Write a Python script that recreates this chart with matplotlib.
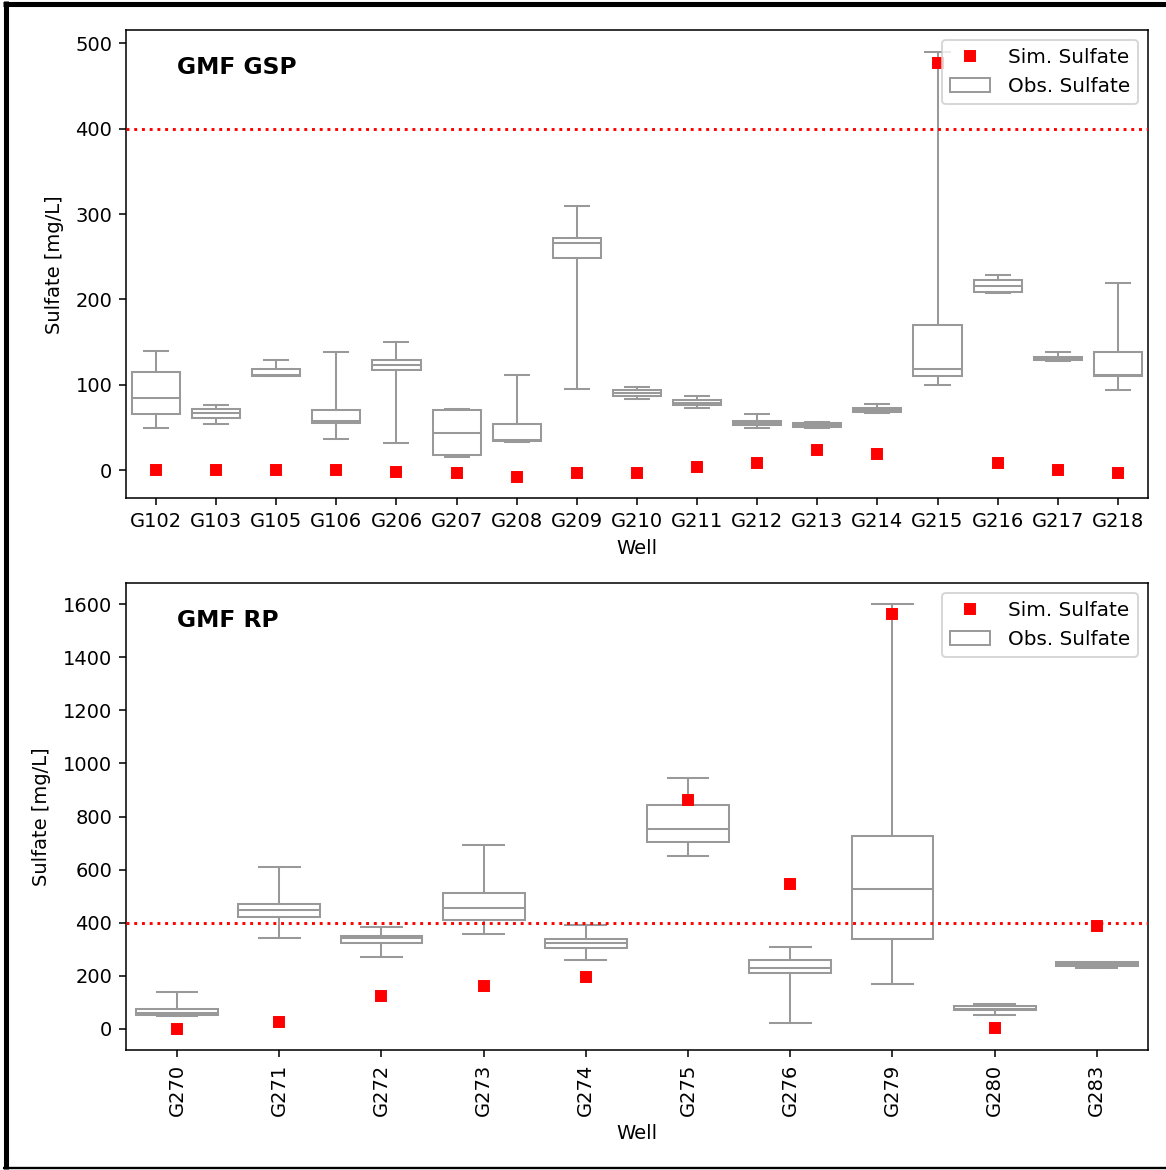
import matplotlib
matplotlib.use("Agg")
import matplotlib.pyplot as plt
from matplotlib.patches import Patch
from matplotlib.lines import Line2D

# GMF GSP wells: observed box statistics and simulated values (mg/L)
gsp_wells = ["G102", "G103", "G105", "G106", "G206", "G207", "G208", "G209", "G210",
             "G211", "G212", "G213", "G214", "G215", "G216", "G217", "G218"]
gsp_whislo = [50, 54, 110, 36, 32, 16, 33, 95, 83, 73, 50, 50, 67, 100, 208, 128, 94]
gsp_q1 = [66, 61, 110, 55, 117, 18, 34, 248, 87, 76.5, 53, 51, 68, 110, 209, 128.5, 110]
gsp_med = [85, 67, 112, 58, 123, 44, 35, 266, 90, 79, 55.5, 52.5, 71, 119, 216, 130.5, 111]
gsp_q3 = [115, 72, 118, 71, 129, 70, 54, 272, 94, 82, 58, 55, 73, 170, 223, 133, 139]
gsp_whishi = [140, 76, 129, 139, 150, 72, 111, 309, 98, 87, 66, 57, 77, 490, 229, 139, 219]
gsp_sim = [0, 0, 0, 0, -2, -3, -8, -3, -3, 3.5, 9, 24, 19, 477, 9, 0, -3]

# GMF RP wells
rp_wells = ["G270", "G271", "G272", "G273", "G274", "G275", "G276", "G279", "G280", "G283"]
rp_whislo = [48, 343, 271, 359, 261, 650, 20, 167, 52, 228]
rp_q1 = [51, 420, 322, 411, 305, 704, 212, 338, 69, 236]
rp_med = [61, 447, 343, 457, 322, 754, 228, 528, 76, 243]
rp_q3 = [75, 469, 348, 512, 337, 845, 260, 725, 85, 250]
rp_whishi = [139, 610, 382, 694, 392, 944, 309, 1600, 95, 252]
rp_sim = [0, 25, 123, 162, 194, 862, 545, 1564, 3, 387]

limit = 400
box_color = "#999999"

plt.rcParams["font.family"] = "DejaVu Sans"
plt.rcParams["font.size"] = 10

fig = plt.figure(figsize=(1166 / 140, 1170 / 140), dpi=140)
ax1 = fig.add_axes([0.108, 0.574, 0.8765, 0.400])
ax2 = fig.add_axes([0.108, 0.1026, 0.8765, 0.399])


def draw_panel(ax, wells, whislo, q1, med, q3, whishi, sim, title, rotate):
    stats = []
    for i in range(len(wells)):
        stats.append(dict(whislo=whislo[i], q1=q1[i], med=med[i], q3=q3[i],
                          whishi=whishi[i], fliers=[], label=wells[i]))
    pos = list(range(len(wells)))
    line_kw = dict(color=box_color, linewidth=1.05)
    ax.bxp(stats, positions=pos, widths=0.8, showfliers=False, patch_artist=True,
           boxprops=dict(facecolor="white", edgecolor=box_color, linewidth=1.05),
           whiskerprops=line_kw, capprops=line_kw, medianprops=line_kw, zorder=2)
    ax.plot(pos, sim, linestyle="none", marker="s", color="red", markersize=5.5,
            zorder=4)
    ax.set_xlim(-0.5, len(wells) - 0.5)
    ax.axhline(limit, color="red", linestyle=":", linewidth=1.5, zorder=3)
    ax.set_xticks(pos)
    ax.set_xticklabels(wells, rotation=90 if rotate else 0)
    ax.set_xlabel("Well")
    ax.set_ylabel("Sulfate [mg/L]", labelpad=6)
    ax.text(0.05, 0.92, title, transform=ax.transAxes, fontsize=12,
            fontweight="bold", va="center", ha="left")
    handles = [Line2D([], [], linestyle="none", marker="s", color="red", markersize=5.5),
               Patch(facecolor="white", edgecolor=box_color)]
    ax.legend(handles, ["Sim. Sulfate", "Obs. Sulfate"], loc="upper right",
              fontsize=10.3, handletextpad=0.9)


draw_panel(ax1, gsp_wells, gsp_whislo, gsp_q1, gsp_med, gsp_q3, gsp_whishi, gsp_sim,
           "GMF GSP", False)
ax1.set_ylim(-33, 515)
ax1.set_yticks([0, 100, 200, 300, 400, 500])

draw_panel(ax2, rp_wells, rp_whislo, rp_q1, rp_med, rp_q3, rp_whishi, rp_sim,
           "GMF RP", True)
ax2.set_ylim(-80, 1680)
ax2.set_yticks([0, 200, 400, 600, 800, 1000, 1200, 1400, 1600])

# dark frame on the top, left and bottom edges of the figure
frame_kw = dict(transform=fig.transFigure, color="black", solid_capstyle="butt")
fig.add_artist(Line2D([0.003, 1.0], [0.9965, 0.9965], linewidth=2.6, **frame_kw))
fig.add_artist(Line2D([0.0054, 0.0054], [0.0005, 0.999], linewidth=2.6, **frame_kw))
fig.add_artist(Line2D([0.003, 1.0], [0.0017, 0.0017], linewidth=1.2, **frame_kw))

fig.savefig("out.png", dpi=140)
